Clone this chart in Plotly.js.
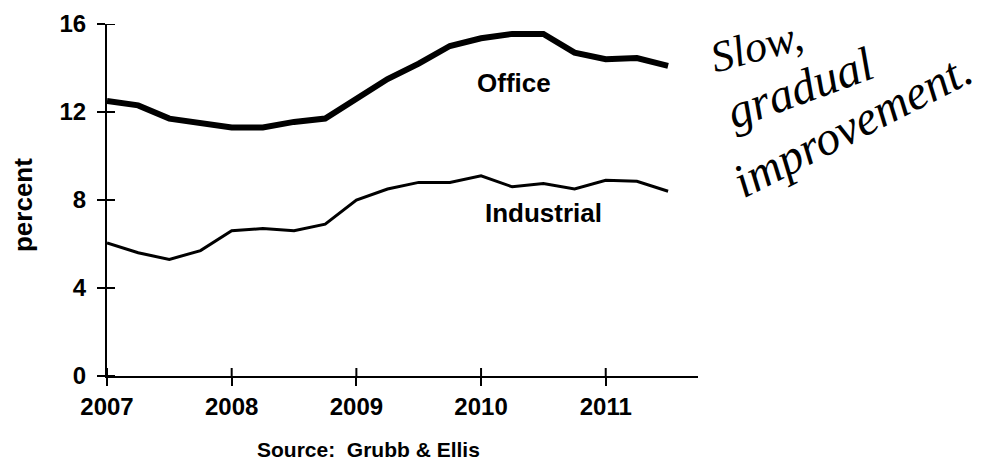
<!DOCTYPE html>
<html>
<head>
<meta charset="utf-8">
<script src="https://cdn.plot.ly/plotly-3.0.1.min.js"></script>
<style>html,body{margin:0;padding:0;background:#fff;}#chart{width:988px;height:463px;}</style>
</head>
<body>
<div id="chart"></div>
<script>
// Quarterly observations (year fraction)
const quarters = [2007.0, 2007.25, 2007.5, 2007.75, 2008.0, 2008.25, 2008.5, 2008.75,
                  2009.0, 2009.25, 2009.5, 2009.75, 2010.0, 2010.25, 2010.5, 2010.75,
                  2011.0, 2011.25, 2011.5];
const office = [12.5, 12.3, 11.7, 11.5, 11.3, 11.3, 11.55, 11.7,
                12.6, 13.5, 14.2, 15.0, 15.35, 15.55, 15.55, 14.7,
                14.4, 14.45, 14.1];
const industrial = [6.05, 5.6, 5.3, 5.7, 6.6, 6.7, 6.6, 6.9,
                    8.0, 8.5, 8.8, 8.8, 9.1, 8.6, 8.75, 8.5,
                    8.9, 8.85, 8.4];
const xTickVals = [2007, 2008, 2009, 2010, 2011];
const xTickText = ['2007', '2008', '2009', '2010', '2011'];
const yTickVals = [0, 4, 8, 12, 16];
const yTickText = ['0', '4', '8', '12', '16'];
const seriesLabels = ['Office', 'Industrial'];
const yTitle = 'percent';
const sourceText = 'Source:  Grubb &amp; Ellis';
const noteLines = ['Slow,', 'gradual', 'improvement.'];

const FONT = 'Liberation Sans, Arial, sans-serif';
const HAND = 'Liberation Serif, DejaVu Serif, serif';
const xRange = [2007, 2011.74];
const yRange = [0, 16];

const traces = [
  {x: quarters, y: office, type: 'scatter', mode: 'lines', name: seriesLabels[0],
   line: {color: '#000', width: 6}, hoverinfo: 'skip'},
  {x: quarters, y: industrial, type: 'scatter', mode: 'lines', name: seriesLabels[1],
   line: {color: '#000', width: 3}, hoverinfo: 'skip'}
];

const baseAxis = {showgrid: false, zeroline: false, showline: true, linecolor: '#000', linewidth: 2,
                  tickcolor: '#000', tickwidth: 2, ticklen: 8, ticks: 'outside', fixedrange: true};

function note(text, x, y, size, angle, family, bold) {
  return {text: bold ? '<b>' + text + '</b>' : '<i>' + text + '</i>', x: x, y: y, xref: 'paper', yref: 'paper',
          xanchor: 'center', yanchor: 'middle', showarrow: false, textangle: angle,
          font: {family: family, size: size, color: '#000'}};
}

// inner halves of the crossing tick marks (the outer halves are the axes' own ticks)
const tickShapes = [];
xTickVals.forEach(function (v) {
  tickShapes.push({type: 'line', xref: 'x', yref: 'paper', ysizemode: 'pixel', yanchor: 0,
                   x0: v, x1: v, y0: 0, y1: 8, line: {color: '#000', width: 2}});
});
yTickVals.forEach(function (v) {
  tickShapes.push({type: 'line', xref: 'paper', yref: 'y', xsizemode: 'pixel', xanchor: 0,
                   x0: 0, x1: 8, y0: v, y1: v, line: {color: '#000', width: 2}});
});

const layout = {
  width: 988, height: 463,
  margin: {l: 107, r: 290, t: 24, b: 87},
  paper_bgcolor: '#fff', plot_bgcolor: '#fff',
  showlegend: false,
  xaxis: Object.assign({}, baseAxis, {range: xRange, tickmode: 'array', tickvals: xTickVals, ticktext: xTickText,
    ticklabelstandoff: 0,
    tickfont: {family: FONT, size: 24, color: '#000', weight: 'bold'}}),
  yaxis: Object.assign({}, baseAxis, {range: yRange, tickmode: 'array', tickvals: yTickVals, ticktext: yTickText,
    ticklabelstandoff: 6,
    tickfont: {family: FONT, size: 24, color: '#000', weight: 'bold'}}),
  shapes: tickShapes,
  annotations: [
    {text: '<b>' + seriesLabels[0] + '</b>', x: 2010.264, y: 13.32, xref: 'x', yref: 'y', showarrow: false,
     font: {family: FONT, size: 26, color: '#000'}},
    {text: '<b>' + seriesLabels[1] + '</b>', x: 2010.497, y: 7.41, xref: 'x', yref: 'y', showarrow: false,
     font: {family: FONT, size: 26, color: '#000'}},
    note(yTitle, -0.1421, 0.4858, 26, -90, FONT, true),
    note(sourceText, 0.4433, -0.2102, 21, 0, FONT, true),
    note(noteLines[0], 1.0998, 0.9347, 44, -15, HAND, false),
    note(noteLines[1], 1.1726, 0.8182, 48, -20, HAND, false),
    note(noteLines[2], 1.2622, 0.7131, 48, -27, HAND, false)
  ]
};

Plotly.newPlot('chart', traces, layout, {staticPlot: true, displayModeBar: false});
</script>
</body>
</html>
